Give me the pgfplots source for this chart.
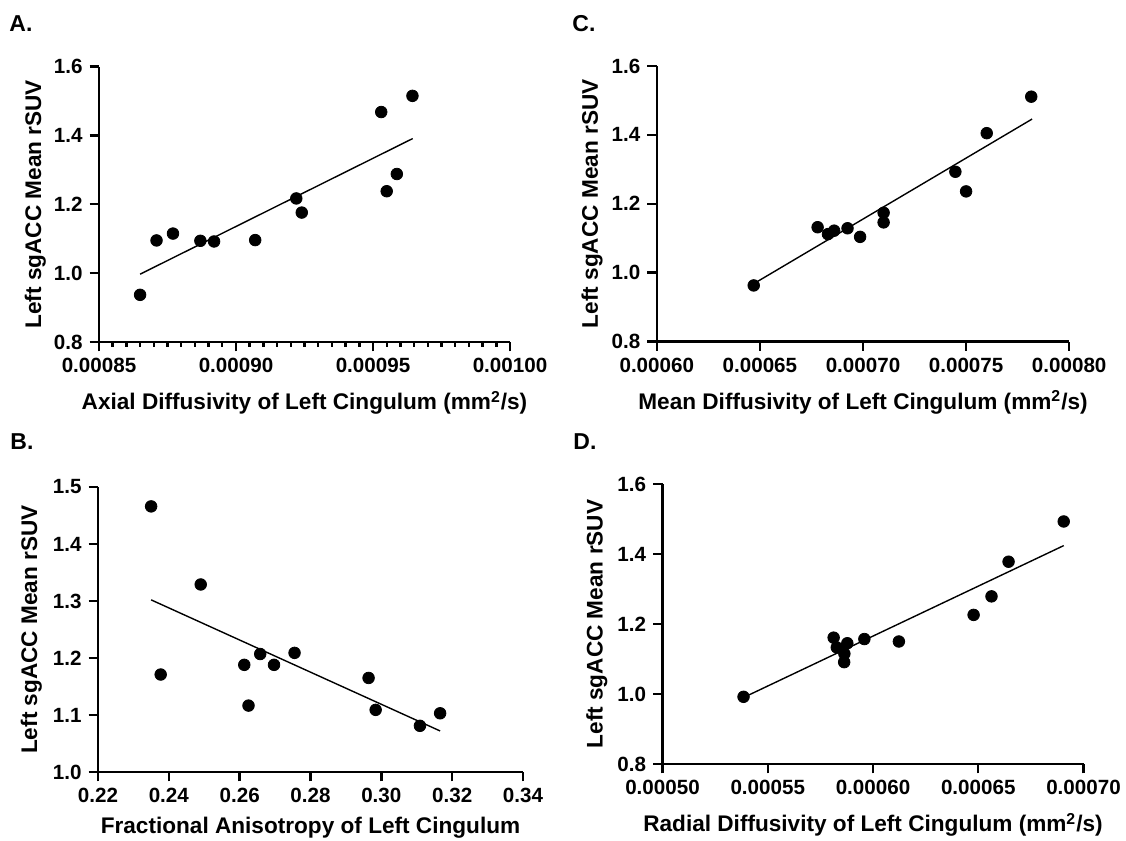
\documentclass[border=0pt]{standalone}
\usepackage{fontspec}
\setmainfont{Liberation Sans}
\usepackage{pgfplots}
\pgfplotsset{compat=1.18}

% common look of the four Prism-style panels
\pgfplotsset{
  panel/.style={
    scale only axis, anchor=south west,
    axis x line*=bottom, axis y line*=left,
    axis line style={line width=1.2pt},
    tick align=outside, major tick length=4.7pt, minor tick length=2.3pt,
    every tick/.style={black, line width=1.2pt},
    ticklabel style={font=\bfseries\fontsize{10.3}{12}\selectfont},
    label style={font=\bfseries\fontsize{11.3}{13}\selectfont},
    /pgf/number format/assume math mode=true,
    scaled ticks=false,
    enlargelimits=false, clip=false,
    y tick label style={/pgf/number format/.cd, fixed, fixed zerofill, precision=1},
    xlabel style={at={(axis description cs:0.5,0)}, anchor=base, yshift=-34pt},
  },
  dots/.style={only marks, mark=*, mark size=2.9pt, black},
  fit/.style={no marks, line width=0.7pt, black},
}

\begin{document}
\begin{tikzpicture}
\useasboundingbox (0,0) rectangle (563pt,420.5pt);

% A. axial diffusivity
\begin{axis}[panel, at={(49.5pt,249.5pt)}, width=205.5pt, height=137.7pt,
  xmin=0.00085, xmax=0.001, ymin=0.8, ymax=1.6,
  xtick={0.00085,0.0009,0.00095,0.001}, ytick={0.8,1.0,1.2,1.4,1.6},
  minor x tick num=9,
  x tick label style={/pgf/number format/.cd, fixed, fixed zerofill, precision=5},
  xlabel={Axial Diffusivity of Left Cingulum (mm\textsuperscript{2}/s)},
  ylabel={Left sgACC Mean rSUV},
  ylabel style={at={(axis description cs:-0.141,0.5)}, anchor=base}]
\addplot[dots] table {
x y
0.000865 0.937
0.000871 1.095
0.000877 1.115
0.000887 1.094
0.000892 1.092
0.000907 1.096
0.000922 1.217
0.000924 1.176
0.000953 1.468
0.000955 1.238
0.0009587 1.288
0.0009644 1.515
};
\addplot[fit] coordinates {(0.000865,0.997) (0.0009645,1.391)};
\end{axis}

% C. mean diffusivity
\begin{axis}[panel, at={(328.4pt,249.7pt)}, width=206.2pt, height=137.8pt,
  xmin=0.0006, xmax=0.0008, ymin=0.8, ymax=1.6,
  xtick={0.0006,0.00065,0.0007,0.00075,0.0008}, ytick={0.8,1.0,1.2,1.4,1.6},
  x tick label style={/pgf/number format/.cd, fixed, fixed zerofill, precision=5},
  xlabel={Mean Diffusivity of Left Cingulum (mm\textsuperscript{2}/s)},
  ylabel={Left sgACC Mean rSUV},
  ylabel style={at={(axis description cs:-0.143,0.5)}, anchor=base}]
\addplot[dots] table {
x y
0.000647 0.963
0.000678 1.132
0.000683 1.112
0.000686 1.122
0.0006925 1.129
0.0006986 1.104
0.00071 1.174
0.00071 1.146
0.0007448 1.293
0.00075 1.236
0.00076 1.405
0.0007816 1.511
};
\addplot[fit] coordinates {(0.000647,0.968) (0.000782,1.446)};
\end{axis}

% B. fractional anisotropy
\begin{axis}[panel, at={(49pt,34.5pt)}, width=212.5pt, height=142.5pt,
  xmin=0.22, xmax=0.34, ymin=1.0, ymax=1.5,
  xtick={0.22,0.24,0.26,0.28,0.30,0.32,0.34}, ytick={1.0,1.1,1.2,1.3,1.4,1.5},
  x tick label style={/pgf/number format/.cd, fixed, fixed zerofill, precision=2},
  xlabel={Fractional Anisotropy of Left Cingulum},
  xlabel style={yshift=3pt},
  ylabel={Left sgACC Mean rSUV},
  ylabel style={at={(axis description cs:-0.143,0.5)}, anchor=base}]
\addplot[dots] table {
x y
0.2350 1.466
0.2377 1.171
0.2490 1.329
0.2613 1.188
0.2625 1.1165
0.2658 1.207
0.2697 1.188
0.2755 1.209
0.2964 1.165
0.2984 1.109
0.3109 1.081
0.3166 1.103
};
\addplot[fit] coordinates {(0.235,1.302) (0.3166,1.072)};
\end{axis}

% D. radial diffusivity
\begin{axis}[panel, at={(331.25pt,38.5pt)}, width=210.5pt, height=140pt,
  xmin=0.0005, xmax=0.0007, ymin=0.8, ymax=1.6,
  xtick={0.0005,0.00055,0.0006,0.00065,0.0007}, ytick={0.8,1.0,1.2,1.4,1.6},
  x tick label style={/pgf/number format/.cd, fixed, fixed zerofill, precision=5},
  xlabel={Radial Diffusivity of Left Cingulum (mm\textsuperscript{2}/s)},
  ylabel={Left sgACC Mean rSUV},
  ylabel style={at={(axis description cs:-0.1425,0.5)}, anchor=base}]
\addplot[dots] table {
x y
0.0005385 0.992
0.0005813 1.161
0.0005828 1.133
0.0005878 1.145
0.0005864 1.115
0.0005863 1.091
0.0005959 1.157
0.0006123 1.150
0.0006478 1.226
0.0006563 1.279
0.0006644 1.378
0.0006906 1.493
};
\addplot[fit] coordinates {(0.0005385,0.990) (0.0006906,1.424)};
\end{axis}

% panel letters
\begin{scope}[every node/.style={anchor=base west, inner sep=0pt, font=\bfseries\fontsize{11.5}{13}\selectfont}]
\node at (4.5pt,404.5pt) {A.};
\node at (286pt,404.5pt) {C.};
\node at (5pt,195.5pt) {B.};
\node at (286.5pt,195.7pt) {D.};
\end{scope}
\end{tikzpicture}
\end{document}
